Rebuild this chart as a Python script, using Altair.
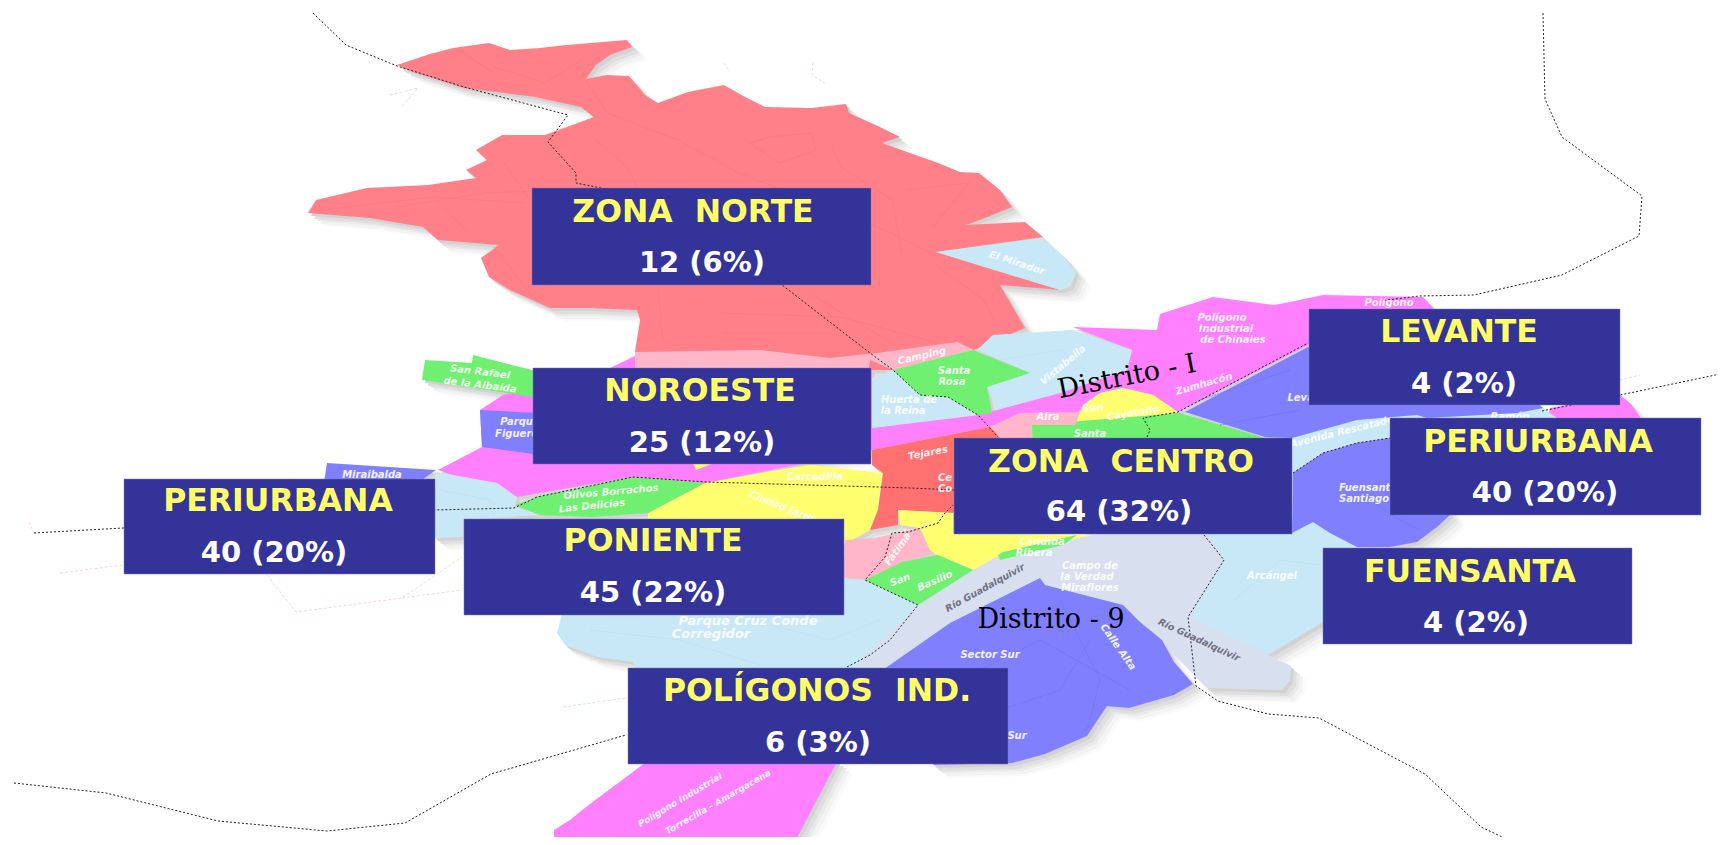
import altair as alt
import pandas as pd

W, H = 1725, 845
MARGIN = 8

# ---- map regions, in picture pixels (drawn in this order)
magenta_belt = [(637,355),(610,368),(503,395),(480,410),(482,447),(438,470),(517,497),(633,477),(705,483),(797,465),(872,450),(990,427),(1075,415),(1100,393),(1123,388),(1153,395),(1178,412),(1308,345),(1320,330),(1436,330),(1433,308),(1423,297),(1323,295),(1290,302),(1274,305),(1213,297),(1160,314),(1157,330),(1073,327),(1132,350),(1127,370),(1060,393),(978,415),(872,428),(872,368),(640,368)]
magenta_east = [(1550,408),(1620,395),(1630,403),(1640,417),(1640,430),(1545,430)]
magenta_south = [(649,760),(838,760),(789,853),(554,853),(554,830),(570,820),(586,807)]
blue_west = [(437,472),(497,483),(517,497),(515,507),(540,515),(463,520),(463,537),(435,538),(430,530)]
blue_parque = [(563,610),(557,633),(565,645),(597,657),(634,662),(634,672),(895,672),(918,605),(865,580),(844,578),(844,610)]
blue_arcangel = [(1204,530),(1292,533),(1313,522),(1330,533),(1357,547),(1330,560),(1323,622),(1268,655),(1190,618),(1224,560)]
blue_strip = [(1265,438),(1292,438),(1357,420),(1417,415),(1427,418),(1517,413),(1543,408),(1557,418),(1556,425),(1391,438),(1357,443),(1323,453),(1293,473),(1280,500),(1280,530),(1250,530),(1250,450)]
lavender_river = [(850,672),(918,605),(973,570),(1000,555),(1093,533),(1204,530),(1224,560),(1190,618),(1268,655),(1291,666),(1290,680),(1282,690),(1207,688),(1160,640),(1100,680),(900,690)]
peri_levante = [(1308,347),(1185,412),(1265,437),(1292,438),(1357,420),(1417,415),(1427,418),(1517,413),(1543,408),(1500,370),(1400,350)]
peri_fuensanta = [(1293,473),(1323,453),(1357,443),(1390,438),(1420,440),(1450,515),(1437,527),(1417,542),(1390,547),(1357,547),(1330,533),(1313,522),(1292,533)]
peri_sur = [(860,690),(887,667),(950,623),(1040,578),(1045,585),(1123,605),(1140,622),(1162,640),(1174,662),(1193,684),(1174,695),(1129,708),(1107,706),(1087,736),(1045,754),(1012,763),(934,765)]
peri_mirai = [(327,463),(436,470),(419,482),(324,482)]
peri_figueroa = [(480,410),(540,413),(540,455),(482,447)]
green_rafael = [(425,360),(472,363),(473,355),(540,372),(540,398),(422,380)]
yellow_sliver = [(692,460),(722,460),(696,470)]
yellow_poniente = [(705,483),(767,472),(810,465),(883,473),(878,510),(870,530),(844,545),(648,525),(648,513)]
green_olivas = [(515,505),(537,497),(633,477),(705,483),(648,513),(593,517),(540,515)]
red_norte = [(397,65),(430,54),(453,48),(489,43),(510,50),(540,48),(566,45),(627,40),(632,47),(610,55),(596,65),(586,79),(607,75),(629,76),(645,95),(658,103),(688,92),(724,85),(745,97),(765,107),(811,108),(846,104),(849,113),(880,127),(900,137),(882,143),(938,163),(960,172),(979,173),(1000,190),(1012,207),(985,218),(966,225),(1025,222),(1043,237),(936,252),(1060,290),(1000,285),(1025,328),(974,350),(957,342),(893,370),(635,370),(635,352),(640,320),(637,310),(590,308),(550,308),(510,290),(489,277),(481,258),(499,245),(438,240),(423,227),(370,218),(308,213),(316,200),(367,188),(428,185),(476,178),(466,170),(487,160),(476,150),(502,135),(545,135),(594,117),(581,107),(535,97),(464,88),(413,72)]
blue_mirador = [(936,252),(1043,238),(1065,258),(1076,273),(1070,287),(1060,290)]
pink_band = [(635,352),(760,350),(830,358),(877,353),(957,342),(972,350),(893,370),(870,360),(868,375),(635,375)]
blue_huerta = [(872,378),(893,370),(920,395),(948,397),(978,415),(872,428)]
blue_vista = [(977,350),(993,335),(1073,330),(1132,350),(1127,370),(1060,393),(997,410),(987,387),(1030,373)]
green_rosa = [(893,370),(973,350),(1030,373),(987,387),(992,413),(978,415),(948,397),(920,395)]
yellow_cayetano = [(1075,425),(1083,405),(1100,393),(1123,388),(1153,395),(1178,412),(1143,418)]
green_santa = [(1032,425),(1180,413),(1262,437),(1250,450),(1032,450)]
pink_aira = [(990,427),(1020,413),(1080,412),(1075,425),(1032,425),(1033,445),(1000,445)]
red_centro = [(872,450),(990,427),(1000,438),(960,500),(953,513),(898,510),(898,525),(870,530),(878,510),(883,473),(872,465)]
pink_centro = [(845,540),(875,538),(920,528),(932,553),(900,563),(873,580),(843,578)]
yellow_centro = [(898,510),(953,513),(953,533),(1093,535),(1000,555),(973,570),(957,563),(940,557),(930,550),(920,528),(900,525)]
green_basilio = [(865,580),(902,562),(938,555),(973,570),(918,605)]
green_ribera = [(998,555),(1003,552),(1077,535),(1063,545),(1000,560)]

REGIONS = [
    (magenta_belt, "#ff80ff"), (magenta_east, "#ff80ff"), (magenta_south, "#ff80ff"),
    (blue_west, "#c8e8f8"), (blue_parque, "#c8e8f8"), (blue_arcangel, "#c8e8f8"), (blue_strip, "#c8e8f8"),
    (lavender_river, "#d8e0f0"),
    (peri_levante, "#8080ff"), (peri_fuensanta, "#8080ff"), (peri_sur, "#8080ff"),
    (peri_mirai, "#8080ff"), (peri_figueroa, "#8080ff"),
    (green_rafael, "#70f070"), (yellow_sliver, "#ffff70"), (yellow_poniente, "#ffff70"), (green_olivas, "#70f070"),
    (red_norte, "#ff8088"), (blue_mirador, "#c8e8f8"), (pink_band, "#ffb6c8"),
    (blue_huerta, "#c8e8f8"), (blue_vista, "#c8e8f8"), (green_rosa, "#70f070"),
    (yellow_cayetano, "#ffff70"), (green_santa, "#70f070"), (pink_aira, "#ffb6c8"),
    (red_centro, "#ff7070"), (pink_centro, "#ffb6c8"), (yellow_centro, "#ffff70"),
    (green_basilio, "#70f070"), (green_ribera, "#70f070"),
]

SHADOW_STEPS = [(15, 13, "#fafafa"), (12, 11, "#f3f3f3"), (9, 8, "#eaeaea"), (6, 6, "#dfdfdf"), (3, 3, "#d2d2d2")]

# ---- faint street traces
streets_red = [
    [(586,80),(607,113),(678,140),(739,173),(816,203),(892,233),(938,257)],
    [(397,207),(484,193),(566,190)],
    [(321,210),(433,197),(525,203)],
    [(433,197),(469,233)],
    [(749,143),(770,137),(811,133),(816,150),(780,163),(749,143)],
    [(831,143),(841,167),(892,200),(902,253)],
    [(658,290),(663,340)],
    [(719,313),(841,317),(938,343)],
    [(938,267),(984,300),(994,320)],
    [(908,190),(969,183),(933,227)],
    [(494,67),(545,83),(586,57)],
    [(459,50),(494,73)],
    [(596,140),(627,167),(637,187)],
    [(504,163),(530,200)],
    [(494,247),(535,300)],
    [(724,333),(831,333)],
    [(816,297),(892,343)],
    [(900,460),(950,440),(940,500)],
]
streets_peri = [
    [(1060,600),(1100,680),(1087,730)],
    [(960,680),(1040,640),(1130,690)],
    [(1000,710),(1060,690),(1090,640)],
    [(1340,480),(1400,520),(1420,530)],
    [(1200,400),(1290,370)],
    [(1220,425),(1300,410)],
]
streets_blue = [
    [(590,630),(680,640),(760,665)],
    [(770,625),(830,640),(880,620)],
    [(1235,600),(1280,560),(1320,565)],
    [(1000,360),(1060,350),(1090,375)],
    [(440,490),(490,500),(495,520)],
]
ghost_lines = [
    [(29,522),(34,533)],
    [(60,573),(123,565)],
    [(267,575),(296,612),(402,598),(462,557)],
    [(402,598),(462,590)],
    [(563,707),(626,698)],
    [(813,63),(812,75),(826,84)],
    [(724,63),(730,72)],
    [(390,95),(418,88),(402,107)],
    [(1600,385),(1640,375)],
]

# ---- district boundaries
line_northwest = [(313,13),(346,45),(397,66),(464,87),(568,115),(548,142),(576,173),(576,183),(601,188),(782,285),(870,353),(893,370),(920,395),(948,397),(978,415),(998,437)]
line_levante = [(1147,437),(1150,430),(1143,418),(1178,412),(1308,343)]
line_northeast = [(1380,301),(1419,296),(1474,295),(1562,275),(1639,236),(1642,196),(1562,137),(1545,99),(1543,13)]
line_east = [(1542,411),(1620,395),(1725,373)]
line_west = [(34,533),(123,528),(435,510),(514,508),(537,497),(633,477),(706,482),(878,487),(911,488),(954,490)]
line_southwest = [(14,783),(106,793),(218,821),(327,831),(405,823),(491,774),(626,735)]
line_southeast = [(1204,535),(1224,560),(1188,617),(1196,686),(1218,701),(1268,714),(1319,718),(1425,774),(1481,827),(1530,850)]
line_central = [(847,667),(870,655),(890,640),(918,605),(865,580),(885,557),(892,533),(908,532),(938,523),(945,513),(953,505)]
line_fuensanta = [(1293,473),(1323,453),(1357,443),(1390,438)]
BOUNDARIES = [line_northwest, line_levante, line_northeast, line_east, line_west,
              line_southwest, line_southeast, line_central, line_fuensanta]

# ---- small map labels: text, x, y, angle
white_labels = [
    ("Zumhacón", 1204, 384, 344), ("Santa", 954, 371, 0), ("Rosa", 952, 382, 0),
    ("Camping", 922, 356, 347), ("Huerta de", 909, 400, 0), ("la Reina", 903, 411, 0),
    ("Vistabella", 1063, 365, 320), ("Aira", 1048, 417, 0), ("San", 1093, 408, 354),
    ("Cayetano", 1133, 413, 350), ("Santa", 1090, 434, 0), ("Tejares", 928, 453, 349),
    ("Ce", 945, 478, 0), ("Co", 945, 489, 0), ("Fuensanta", 1368, 488, 0), ("Santiago", 1364, 499, 0),
    ("Arcángel", 1272, 576, 0), ("Campo de", 1090, 566, 0), ("la Verdad", 1087, 577, 0),
    ("Miraflores", 1090, 588, 0), ("Sector Sur", 990, 655, 0), ("Calle Alta", 1118, 647, 55),
    ("San", 900, 580, 340), ("Basilio", 935, 581, 336), ("Fátima", 898, 549, 305),
    ("Cándida", 1042, 542, 0), ("Ribera", 1034, 553, 0),
    ("El Mirador", 1017, 263, 18), ("San Rafael", 480, 372, 7), ("de la Albaida", 480, 385, 7),
    ("Parque", 520, 422, 0), ("Figueroa", 520, 434, 0), ("Miraibalda", 372, 475, 0),
    ("Olivos Borrachos", 611, 492, 355), ("Las Delicias", 592, 506, 354), ("Carcadilla", 815, 477, 0),
    ("Ciudad Jardín", 785, 508, 22), ("Polígono", 1222, 318, 0), ("Industrial", 1226, 329, 0),
    ("de Chinales", 1233, 340, 0), ("Polígono", 1389, 303, 0), ("Levante", 1310, 398, 0),
    ("Ramón", 1510, 417, 0), ("Avenida Rescatado", 1342, 432, 346), ("Sur", 1017, 736, 0),
]
wide_labels = [("Parque Cruz Conde", 748, 621, 0), ("Corregidor", 711, 634, 0)]
narrow_labels = [("Polígono Industrial", 680, 800, 329), ("Torrecilla - Amargacena", 718, 802, 330)]
grey_labels = [("Río Guadalquivir", 985, 588, 331), ("Río Guadalquivir", 1199, 640, 25)]
district_labels = [("Distrito - I", 1127, 377, 349), ("Distrito - 9", 1051, 620, 0)]

# ---- the zone boxes
zone_names = ["ZONA \u00a0NORTE", "NOROESTE", "PERIURBANA", "PONIENTE", "POLÍGONOS \u00a0IND.",
              "ZONA \u00a0CENTRO", "LEVANTE", "PERIURBANA", "FUENSANTA"]
zone_values = ["12 (6%)", "25 (12%)", "40 (20%)", "45 (22%)", "6 (3%)",
               "64 (32%)", "4 (2%)", "40 (20%)", "4 (2%)"]
box_left = [532, 533, 124, 464, 628, 954, 1309, 1390, 1323]
box_right = [871, 871, 435, 844, 1008, 1292, 1620, 1701, 1632]
box_top = [188, 368, 479, 519, 668, 438, 309, 418, 548]
box_bottom = [285, 464, 574, 615, 764, 534, 405, 515, 644]
name_x = [693, 700, 278, 653, 817, 1121, 1459, 1538, 1470]
name_y = [212, 391, 501, 541, 691, 462, 332, 442, 572]
value_x = [702, 702, 274, 653, 818, 1119, 1464, 1545, 1476]
value_y = [263, 443, 553, 593, 743, 512, 384, 493, 623]


def feature(points, color):
    ring = [list(p) for p in points] + [list(points[0])]
    return {"type": "Feature", "geometry": {"type": "Polygon", "coordinates": [ring]},
            "properties": {"fill": color}}


features = []
for dx, dy, shade in SHADOW_STEPS:
    for pts, _ in REGIONS:
        features.append(feature([(x + dx, y + dy) for x, y in pts], shade))
features += [feature(pts, color) for pts, color in REGIONS]

x_scale = alt.Scale(domain=[MARGIN, W - MARGIN], range=[0, W - 2 * MARGIN], nice=False, zero=False)
y_scale = alt.Scale(domain=[MARGIN, H - MARGIN], range=[0, H - 2 * MARGIN], nice=False, zero=False)
X = lambda f: alt.X(f, type="quantitative", scale=x_scale, axis=None)
Y = lambda f: alt.Y(f, type="quantitative", scale=y_scale, axis=None)

regions = alt.Chart(alt.Data(values=features)).mark_geoshape(strokeWidth=0).encode(
    fill=alt.Fill("properties.fill:N", scale=None)
).project(type="identity", scale=1, translate=[-MARGIN, -MARGIN], reflectY=False)


def polyline_layer(lines, **mark):
    rows = [{"id": k, "i": i, "x": x, "y": y} for k, pts in enumerate(lines) for i, (x, y) in enumerate(pts)]
    return alt.Chart(pd.DataFrame(rows)).mark_line(clip=True, **mark).encode(
        x=X("x"), y=Y("y"), detail="id:N", order="i:Q"
    )


ghosts = polyline_layer(ghost_lines, color="#ffd4d4", strokeWidth=1, strokeDash=[3, 2])
street_a = polyline_layer(streets_red, color="#f4767e", strokeWidth=0.8, strokeDash=[2, 1])
street_b = polyline_layer(streets_peri, color="#7470ea", strokeWidth=0.8, strokeDash=[2, 1])
street_c = polyline_layer(streets_blue, color="#bcdcec", strokeWidth=0.8, strokeDash=[2, 1])
boundaries = polyline_layer(BOUNDARIES, color="#222222", strokeWidth=1, strokeDash=[2, 2])


def label_layer(rows, **mark):
    df = pd.DataFrame(rows, columns=["t", "x", "y", "a"])
    return alt.Chart(df).mark_text(baseline="middle", align="center", **mark).encode(
        x=X("x"), y=Y("y"), text="t:N", angle=alt.Angle("a:Q", scale=None)
    )


small = dict(font="DejaVu Sans", fontStyle="italic", fontWeight="bold", color="#ffffff", opacity=0.9)
whites = label_layer(white_labels, fontSize=10, **small)
wides = label_layer(wide_labels, fontSize=13, **small)
narrows = label_layer(narrow_labels, fontSize=9, **small)
greys = label_layer(grey_labels, font="DejaVu Sans", fontSize=9.5, fontStyle="italic", fontWeight="bold", color="#707080")
districts = label_layer(district_labels, font="DejaVu Serif", fontSize=27, color="#000000")

zones = pd.DataFrame(dict(name=zone_names, value=zone_values, x1=box_left, x2=box_right, y1=box_top, y2=box_bottom,
                          nx=name_x, ny=name_y, vx=value_x, vy=value_y))
boxes = alt.Chart(zones).mark_rect(color="#333399", stroke="#7777bb", strokeWidth=0.5).encode(
    x=X("x1"), x2="x2:Q", y=Y("y1"), y2="y2:Q"
)
names = alt.Chart(zones).mark_text(font="DejaVu Sans", fontWeight="bold", fontSize=31.5, color="#ffff66", baseline="middle", align="center", dy=1).encode(
    x=X("nx"), y=Y("ny"), text="name:N"
)
values = alt.Chart(zones).mark_text(font="DejaVu Sans", fontWeight="bold", fontSize=29, color="#ffffff", baseline="middle", align="center").encode(
    x=X("vx"), y=Y("vy"), text="value:N"
)

chart = alt.layer(regions, ghosts, street_a, street_b, street_c, boundaries, whites, wides, narrows, greys,
                  districts, boxes, names, values).properties(
    width=W - 2 * MARGIN, height=H - 2 * MARGIN, padding=0,
    autosize=alt.AutoSizeParams(type="none"), background="#ffffff"
).configure_view(stroke=None)

chart.save("out.html", embed_options={"renderer": "svg", "actions": False})
